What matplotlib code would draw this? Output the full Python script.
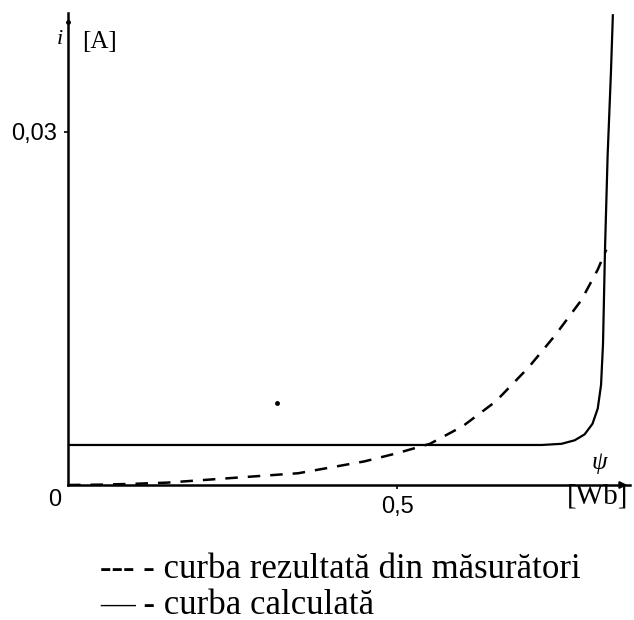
import matplotlib
matplotlib.use("Agg")
import matplotlib.pyplot as plt

# measured magnetization curve (flux linkage psi [Wb] vs current i [A])
psi_meas = [0.0, 0.05, 0.10, 0.15, 0.20, 0.25, 0.30, 0.35, 0.40, 0.45, 0.50,
            0.55, 0.60, 0.65, 0.70, 0.74, 0.78, 0.805, 0.818]
i_meas = [0.0, 0.00003, 0.0001, 0.0002, 0.0004, 0.0006, 0.0008, 0.0010, 0.0015,
          0.0020, 0.0027, 0.0035, 0.0050, 0.0071, 0.0100, 0.0127, 0.0157,
          0.0183, 0.0200]

# calculated curve
psi_calc = [0.0, 0.72, 0.75, 0.77, 0.785, 0.797, 0.805, 0.810, 0.813,
            0.816, 0.820, 0.825, 0.828]
i_calc = [0.0034, 0.0034, 0.0035, 0.0038, 0.0043, 0.0052, 0.0065, 0.0085,
          0.0120, 0.0200, 0.0280, 0.0350, 0.0400]

# stray points on the drawing
dot_psi = [0.0, 0.318]
dot_i = [0.0393, 0.0070]

x_ticks = [0.5]
x_ticklabels = ["0,5"]
y_ticks = [0.03]
y_ticklabels = ["0,03"]

W, H = 634, 620
serif = "Liberation Serif"
sans = "Liberation Sans"

fig = plt.figure(figsize=(W / 100, H / 100), dpi=100)
ax = fig.add_axes([68 / W, (H - 485) / H, (630 - 68) / W, (485 - 13) / H])

ax.plot(psi_calc, i_calc, color="black", linewidth=1.6, solid_capstyle="butt")
ax.plot(psi_meas, i_meas, color="black", linewidth=1.8, dashes=(5, 4))
ax.plot(dot_psi, dot_i, "o", color="black", markersize=2.5, linestyle="none",
        clip_on=False)

ax.set_xlim(0, 0.854)
ax.set_ylim(0, 0.0401)

for side in ("top", "right"):
    ax.spines[side].set_visible(False)
for side in ("left", "bottom"):
    ax.spines[side].set_linewidth(1.8)

ax.set_xticks(x_ticks)
ax.set_xticklabels(x_ticklabels, fontsize=17, fontname=sans)
ax.set_yticks(y_ticks)
ax.set_yticklabels(y_ticklabels, fontsize=17, fontname=sans)
ax.tick_params(axis="both", length=3, width=1.2, pad=5)

# arrow at the end of the psi axis
ax.annotate("", xy=(1.0, 0), xytext=(0.985, 0), xycoords="axes fraction",
            arrowprops=dict(arrowstyle="-|>", color="black", lw=1.5,
                            mutation_scale=10))

def px_text(x, y, s, **kw):
    fig.text(x / W, 1 - y / H, s, **kw)

px_text(55, 500, "0", fontsize=17, fontname=sans, ha="center", va="center")
px_text(60, 40, "i", fontsize=16, fontname=serif, style="italic",
        ha="center", va="center")
px_text(99, 42, "[A]", fontsize=18, fontname=serif, ha="center", va="center")
px_text(599, 463, "ψ", fontsize=18, fontname=serif, style="italic",
        ha="center", va="center")
px_text(598, 497, "[Wb]", fontsize=21, fontname=serif, ha="center",
        va="center")

px_text(100, 570, "--- - curba rezultată din măsurători", fontsize=25,
        fontname=serif, ha="left", va="center")
px_text(100, 605, "— - curba calculată", fontsize=25, fontname=serif,
        ha="left", va="center")

fig.savefig("out.png", dpi=100, facecolor="white")
